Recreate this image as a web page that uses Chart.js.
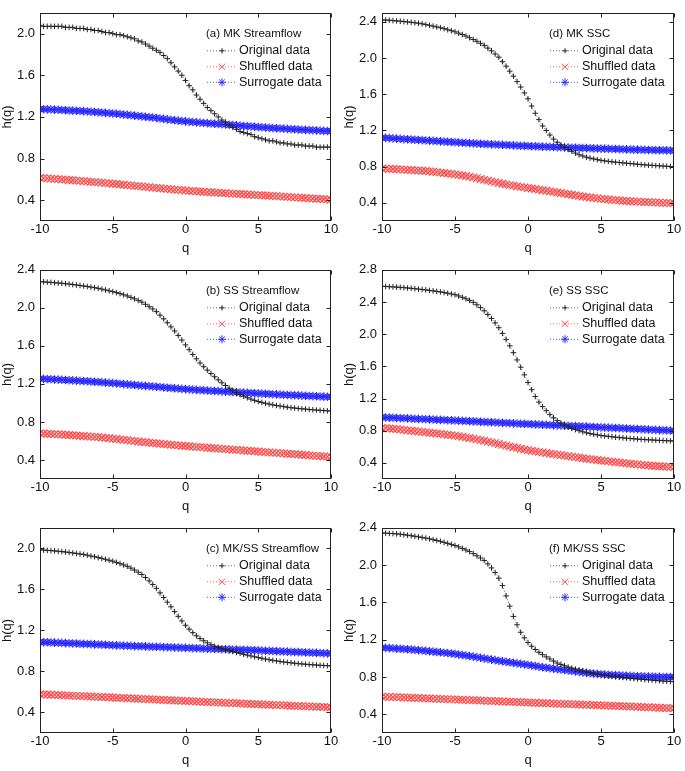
<!DOCTYPE html>
<html>
<head>
<meta charset="utf-8">
<script src="https://cdn.jsdelivr.net/npm/chart.js@4.4.1/dist/chart.umd.min.js"></script>
<style>
  body { margin: 0; background: #fff; }
  #wrap { position: relative; width: 685px; height: 771px; }
  canvas { position: absolute; }
</style>
</head>
<body>
<div id="wrap">
  <canvas id="pa" width="342" height="257" style="left:0;top:0"></canvas>
  <canvas id="pd" width="343" height="257" style="left:342px;top:0"></canvas>
  <canvas id="pb" width="342" height="258" style="left:0;top:257px"></canvas>
  <canvas id="pe" width="343" height="258" style="left:342px;top:257px"></canvas>
  <canvas id="pc" width="342" height="256" style="left:0;top:515px"></canvas>
  <canvas id="pf" width="343" height="256" style="left:342px;top:515px"></canvas>
</div>
<script>
// q from -10 to 10
const qValues = [
  -10, -9.75, -9.5, -9.25, -9, -8.75, -8.5, -8.25, -8, -7.75, -7.5, -7.25,
  -7, -6.75, -6.5, -6.25, -6, -5.75, -5.5, -5.25, -5, -4.75, -4.5, -4.25,
  -4, -3.75, -3.5, -3.25, -3, -2.75, -2.5, -2.25, -2, -1.75, -1.5, -1.25,
  -1, -0.75, -0.5, -0.25, 0, 0.25, 0.5, 0.75, 1, 1.25, 1.5, 1.75,
  2, 2.25, 2.5, 2.75, 3, 3.25, 3.5, 3.75, 4, 4.25, 4.5, 4.75,
  5, 5.25, 5.5, 5.75, 6, 6.25, 6.5, 6.75, 7, 7.25, 7.5, 7.75,
  8, 8.25, 8.5, 8.75, 9, 9.25, 9.5, 9.75, 10
];
const xTicks = [-10, -5, 0, 5, 10];
const seriesNames = ['Original data', 'Shuffled data', 'Surrogate data'];

// (a) MK Streamflow
const origA = [
  2.08, 2.07, 2.07, 2.07, 2.07, 2.07, 2.07, 2.06, 2.06, 2.06, 2.05, 2.05,
  2.05, 2.04, 2.04, 2.03, 2.03, 2.02, 2.01, 2.01, 2.00, 1.99, 1.99, 1.98,
  1.97, 1.96, 1.95, 1.93, 1.92, 1.90, 1.88, 1.86, 1.84, 1.82, 1.79, 1.76,
  1.72, 1.68, 1.64, 1.60, 1.55, 1.50, 1.46, 1.41, 1.37, 1.33, 1.29, 1.26,
  1.23, 1.20, 1.17, 1.15, 1.12, 1.10, 1.08, 1.06, 1.05, 1.04, 1.03, 1.01,
  1.00, 0.99, 0.98, 0.97, 0.97, 0.96, 0.95, 0.95, 0.94, 0.94, 0.93, 0.93,
  0.93, 0.92, 0.92, 0.92, 0.91, 0.91, 0.91, 0.91, 0.91
];
const shufA = [
  .615, .612, .610, .607, .605, .602, .599, .597, .594, .591, .588, .586,
  .583, .580, .577, .574, .571, .568, .564, .561, .558, .555, .551, .548,
  .545, .542, .538, .535, .532, .528, .525, .521, .518, .515, .511, .508,
  .505, .502, .499, .496, .493, .490, .488, .485, .483, .481, .478, .476,
  .474, .472, .469, .467, .465, .463, .461, .459, .457, .455, .453, .451,
  .449, .447, .445, .443, .441, .439, .436, .434, .432, .430, .427, .425,
  .423, .421, .418, .416, .414, .412, .409, .407, .405
];
const surrA = [
  1.275, 1.274, 1.272, 1.271, 1.270, 1.268, 1.266, 1.264, 1.262, 1.260, 1.259, 1.257,
  1.255, 1.252, 1.250, 1.247, 1.245, 1.242, 1.239, 1.236, 1.233, 1.230, 1.227, 1.223,
  1.220, 1.216, 1.212, 1.209, 1.205, 1.201, 1.197, 1.194, 1.190, 1.185, 1.181, 1.176,
  1.172, 1.168, 1.164, 1.161, 1.157, 1.154, 1.151, 1.148, 1.145, 1.142, 1.140, 1.137,
  1.135, 1.132, 1.130, 1.127, 1.125, 1.122, 1.119, 1.116, 1.113, 1.110, 1.108, 1.105,
  1.103, 1.100, 1.098, 1.095, 1.093, 1.091, 1.089, 1.087, 1.085, 1.083, 1.081, 1.079,
  1.077, 1.075, 1.073, 1.072, 1.070, 1.068, 1.066, 1.065, 1.063
];

// (b) SS Streamflow
const origB = [
  2.275, 2.273, 2.270, 2.268, 2.265, 2.261, 2.258, 2.254, 2.250, 2.245, 2.240, 2.235,
  2.230, 2.224, 2.218, 2.212, 2.205, 2.197, 2.188, 2.179, 2.170, 2.160, 2.149, 2.137,
  2.125, 2.110, 2.095, 2.078, 2.060, 2.037, 2.013, 1.988, 1.960, 1.923, 1.884, 1.843,
  1.800, 1.757, 1.710, 1.661, 1.610, 1.560, 1.510, 1.464, 1.420, 1.381, 1.345, 1.309,
  1.275, 1.243, 1.212, 1.183, 1.155, 1.131, 1.108, 1.088, 1.070, 1.054, 1.040, 1.027,
  1.015, 1.005, 0.996, 0.988, 0.980, 0.973, 0.967, 0.961, 0.955, 0.950, 0.946, 0.942,
  0.938, 0.935, 0.931, 0.928, 0.925, 0.922, 0.920, 0.917, 0.915
];
const shufB = [
  .680, .678, .676, .674, .672, .670, .668, .665, .663, .660, .657, .655,
  .652, .649, .646, .643, .640, .636, .632, .629, .625, .621, .617, .612,
  .608, .603, .599, .594, .590, .586, .582, .579, .575, .571, .567, .564,
  .560, .557, .553, .550, .547, .544, .541, .538, .535, .532, .529, .526,
  .523, .520, .517, .514, .511, .508, .506, .503, .500, .497, .495, .492,
  .489, .486, .483, .480, .477, .474, .472, .469, .466, .463, .461, .458,
  .455, .452, .449, .446, .443, .440, .437, .435, .432
];
const surrB = [
  1.255, 1.253, 1.251, 1.249, 1.247, 1.245, 1.243, 1.241, 1.239, 1.237, 1.235, 1.232,
  1.230, 1.228, 1.225, 1.223, 1.220, 1.217, 1.214, 1.211, 1.208, 1.205, 1.202, 1.198,
  1.195, 1.192, 1.188, 1.185, 1.182, 1.179, 1.176, 1.173, 1.170, 1.167, 1.163, 1.160,
  1.157, 1.154, 1.151, 1.148, 1.145, 1.142, 1.140, 1.137, 1.135, 1.133, 1.130, 1.128,
  1.126, 1.124, 1.121, 1.119, 1.117, 1.115, 1.112, 1.110, 1.108, 1.106, 1.104, 1.102,
  1.100, 1.098, 1.096, 1.094, 1.092, 1.090, 1.088, 1.086, 1.084, 1.082, 1.081, 1.079,
  1.077, 1.075, 1.073, 1.072, 1.070, 1.068, 1.066, 1.065, 1.063
];

// (c) MK/SS Streamflow
const origC = [
  1.985, 1.983, 1.980, 1.978, 1.975, 1.971, 1.968, 1.964, 1.960, 1.955, 1.950, 1.945,
  1.940, 1.933, 1.925, 1.918, 1.910, 1.902, 1.893, 1.884, 1.875, 1.863, 1.851, 1.838,
  1.825, 1.807, 1.788, 1.767, 1.745, 1.715, 1.683, 1.648, 1.610, 1.566, 1.521, 1.475,
  1.430, 1.383, 1.337, 1.292, 1.250, 1.212, 1.178, 1.147, 1.120, 1.099, 1.079, 1.061,
  1.045, 1.033, 1.022, 1.012, 1.003, 0.994, 0.985, 0.976, 0.967, 0.959, 0.951, 0.943,
  0.935, 0.928, 0.921, 0.914, 0.908, 0.902, 0.897, 0.892, 0.888, 0.884, 0.880, 0.876,
  0.873, 0.870, 0.867, 0.865, 0.862, 0.860, 0.858, 0.856, 0.855
];
const shufC = [
  .578, .576, .575, .573, .572, .570, .568, .567, .565, .564, .562, .560,
  .559, .557, .556, .554, .552, .551, .549, .548, .546, .544, .543, .541,
  .539, .537, .536, .534, .532, .530, .529, .527, .525, .524, .522, .520,
  .519, .517, .515, .514, .512, .510, .509, .507, .506, .504, .502, .501,
  .499, .498, .496, .494, .493, .491, .490, .488, .486, .485, .483, .482,
  .480, .478, .477, .475, .474, .472, .471, .469, .468, .466, .465, .463,
  .462, .460, .459, .457, .456, .454, .453, .451, .450
];
const surrC = [
  1.087, 1.085, 1.084, 1.082, 1.081, 1.079, 1.078, 1.076, 1.075, 1.073, 1.072, 1.070,
  1.069, 1.067, 1.066, 1.064, 1.063, 1.061, 1.060, 1.058, 1.055, 1.054, 1.053, 1.051,
  1.050, 1.049, 1.047, 1.046, 1.045, 1.044, 1.042, 1.041, 1.040, 1.039, 1.037, 1.036,
  1.035, 1.034, 1.032, 1.031, 1.030, 1.029, 1.027, 1.026, 1.025, 1.024, 1.022, 1.021,
  1.020, 1.019, 1.017, 1.016, 1.015, 1.014, 1.012, 1.011, 1.010, 1.009, 1.007, 1.006,
  1.005, 1.003, 1.002, 1.000, 0.999, 0.997, 0.996, 0.994, 0.993, 0.991, 0.990, 0.988,
  0.987, 0.985, 0.984, 0.982, 0.981, 0.979, 0.978, 0.976, 0.975
];

// (d) MK SSC
const origD = [
  2.420, 2.420, 2.418, 2.414, 2.410, 2.407, 2.403, 2.399, 2.395, 2.390, 2.385, 2.378,
  2.370, 2.362, 2.353, 2.344, 2.335, 2.325, 2.313, 2.302, 2.290, 2.275, 2.260, 2.243,
  2.225, 2.205, 2.185, 2.163, 2.140, 2.110, 2.080, 2.045, 2.010, 1.960, 1.910, 1.855,
  1.800, 1.740, 1.680, 1.615, 1.550, 1.470, 1.390, 1.320, 1.250, 1.200, 1.150, 1.105,
  1.070, 1.040, 1.015, 0.990, 0.970, 0.950, 0.932, 0.918, 0.905, 0.895, 0.886, 0.878,
  0.870, 0.864, 0.859, 0.854, 0.850, 0.846, 0.842, 0.838, 0.835, 0.831, 0.827, 0.823,
  0.820, 0.817, 0.815, 0.812, 0.810, 0.807, 0.805, 0.802, 0.800
];
const shufD = [
  .780, .778, .776, .774, .772, .770, .768, .765, .763, .760, .758, .755,
  .752, .748, .744, .740, .735, .730, .725, .720, .715, .709, .703, .697,
  .690, .682, .673, .664, .655, .646, .638, .629, .620, .612, .605, .597,
  .590, .584, .577, .571, .565, .559, .553, .546, .540, .534, .528, .521,
  .515, .509, .503, .496, .490, .484, .477, .471, .465, .460, .455, .450,
  .445, .441, .437, .434, .430, .427, .424, .421, .418, .416, .414, .412,
  .410, .408, .406, .405, .403, .401, .400, .398, .397
];
const surrD = [
  1.120, 1.118, 1.115, 1.113, 1.110, 1.108, 1.105, 1.103, 1.100, 1.098, 1.095, 1.093,
  1.090, 1.088, 1.085, 1.083, 1.080, 1.078, 1.075, 1.073, 1.070, 1.068, 1.065, 1.063,
  1.060, 1.058, 1.055, 1.053, 1.051, 1.049, 1.047, 1.045, 1.043, 1.041, 1.039, 1.037,
  1.035, 1.033, 1.031, 1.030, 1.028, 1.026, 1.025, 1.023, 1.022, 1.020, 1.019, 1.017,
  1.016, 1.014, 1.013, 1.011, 1.010, 1.009, 1.007, 1.006, 1.005, 1.004, 1.002, 1.001,
  1.000, 0.999, 0.997, 0.996, 0.995, 0.994, 0.992, 0.991, 0.990, 0.989, 0.988, 0.987,
  0.986, 0.985, 0.984, 0.983, 0.982, 0.981, 0.980, 0.979, 0.978
];

// (e) SS SSC
const origE = [
  2.595, 2.593, 2.590, 2.588, 2.585, 2.582, 2.578, 2.574, 2.570, 2.565, 2.560, 2.555,
  2.550, 2.544, 2.538, 2.532, 2.525, 2.517, 2.509, 2.500, 2.490, 2.475, 2.458, 2.440,
  2.420, 2.395, 2.365, 2.330, 2.290, 2.245, 2.195, 2.140, 2.080, 2.010, 1.935, 1.855,
  1.770, 1.680, 1.590, 1.495, 1.400, 1.310, 1.225, 1.155, 1.100, 1.050, 1.000, 0.960,
  0.925, 0.895, 0.870, 0.848, 0.830, 0.814, 0.800, 0.787, 0.775, 0.765, 0.756, 0.748,
  0.740, 0.735, 0.730, 0.725, 0.720, 0.716, 0.711, 0.707, 0.703, 0.700, 0.696, 0.693,
  0.690, 0.687, 0.685, 0.682, 0.680, 0.678, 0.676, 0.674, 0.672
];
const shufE = [
  .835, .832, .828, .824, .820, .815, .810, .805, .800, .795, .790, .785,
  .780, .775, .770, .765, .760, .755, .750, .745, .740, .733, .725, .718,
  .710, .701, .693, .684, .675, .665, .655, .645, .635, .625, .615, .605,
  .595, .586, .576, .567, .558, .551, .544, .537, .530, .523, .516, .510,
  .503, .497, .490, .484, .478, .471, .465, .458, .452, .447, .441, .436,
  .430, .425, .420, .415, .410, .405, .400, .395, .390, .385, .381, .376,
  .372, .368, .365, .361, .358, .355, .353, .350, .348
];
const surrE = [
  .967, .965, .963, .961, .959, .957, .955, .953, .951, .949, .947, .945,
  .943, .941, .939, .937, .935, .933, .931, .929, .927, .925, .923, .921,
  .918, .916, .914, .912, .909, .907, .905, .903, .900, .898, .896, .894,
  .891, .889, .887, .885, .883, .881, .879, .877, .875, .873, .871, .869,
  .867, .865, .863, .861, .859, .857, .855, .853, .851, .849, .847, .844,
  .842, .840, .838, .836, .834, .832, .830, .827, .825, .823, .821, .819,
  .817, .815, .813, .810, .808, .806, .804, .802, .800
];

// (f) MK/SS SSC
const origF = [
  2.345, 2.343, 2.340, 2.338, 2.335, 2.331, 2.326, 2.321, 2.315, 2.309, 2.303, 2.297,
  2.290, 2.282, 2.273, 2.264, 2.255, 2.244, 2.233, 2.222, 2.210, 2.195, 2.179, 2.162,
  2.145, 2.123, 2.100, 2.076, 2.050, 2.013, 1.970, 1.920, 1.860, 1.780, 1.670, 1.560,
  1.450, 1.360, 1.280, 1.220, 1.170, 1.130, 1.095, 1.065, 1.040, 1.016, 0.994, 0.971,
  0.950, 0.935, 0.920, 0.907, 0.895, 0.884, 0.874, 0.864, 0.855, 0.847, 0.839, 0.832,
  0.825, 0.820, 0.815, 0.810, 0.805, 0.801, 0.796, 0.792, 0.788, 0.784, 0.780, 0.777,
  0.773, 0.770, 0.767, 0.763, 0.760, 0.757, 0.755, 0.752, 0.750
];
const shufF = [
  .590, .588, .587, .585, .584, .582, .581, .579, .578, .576, .575, .573,
  .572, .570, .569, .567, .566, .564, .563, .561, .560, .558, .556, .555,
  .553, .551, .550, .548, .547, .545, .543, .542, .540, .538, .537, .535,
  .534, .532, .530, .529, .527, .525, .524, .522, .521, .519, .518, .516,
  .515, .513, .512, .510, .509, .507, .506, .504, .503, .501, .500, .498,
  .497, .495, .494, .492, .490, .489, .487, .486, .484, .482, .481, .479,
  .478, .476, .474, .473, .471, .469, .468, .466, .465
];
const surrF = [
  1.115, 1.113, 1.110, 1.108, 1.105, 1.103, 1.100, 1.098, 1.095, 1.091, 1.088, 1.084,
  1.080, 1.076, 1.072, 1.069, 1.065, 1.061, 1.057, 1.052, 1.048, 1.042, 1.036, 1.031,
  1.025, 1.019, 1.013, 1.006, 1.000, 0.994, 0.987, 0.981, 0.975, 0.969, 0.963, 0.958,
  0.952, 0.946, 0.941, 0.935, 0.930, 0.924, 0.918, 0.911, 0.905, 0.900, 0.895, 0.890,
  0.885, 0.880, 0.875, 0.870, 0.865, 0.860, 0.855, 0.850, 0.845, 0.841, 0.837, 0.834,
  0.830, 0.827, 0.825, 0.822, 0.820, 0.818, 0.816, 0.814, 0.812, 0.810, 0.809, 0.807,
  0.806, 0.805, 0.804, 0.803, 0.802, 0.801, 0.800, 0.800, 0.799
];

// y axis ticks per panel
const yTicks22 = [0.4, 0.8, 1.2, 1.6, 2.0];
const yTicks24 = [0.4, 0.8, 1.2, 1.6, 2.0, 2.4];
const yTicks28 = [0.4, 0.8, 1.2, 1.6, 2.0, 2.4, 2.8];

Chart.defaults.font.family = '"Liberation Sans", Arial, sans-serif';
Chart.defaults.font.size = 13;
Chart.defaults.color = '#111';

// frame around plot area with inward ticks on all four sides
const frameTicks = {
  id: 'frameTicks',
  afterDraw(chart) {
    const ctx = chart.ctx;
    const a = chart.chartArea;
    const x = chart.scales.x, y = chart.scales.y;
    const L = Math.round(a.left) + 0.5, R = Math.round(a.right) - 0.5;
    const T = Math.round(a.top) + 0.5, B = Math.round(a.bottom) - 0.5;
    ctx.save();
    ctx.strokeStyle = '#222';
    ctx.lineWidth = 1;
    ctx.strokeRect(L, T, R - L, B - T);
    ctx.beginPath();
    x.ticks.forEach(t => {
      const px = Math.round(x.getPixelForValue(t.value)) + 0.5;
      ctx.moveTo(px, B); ctx.lineTo(px, B - 4);
      ctx.moveTo(px, T); ctx.lineTo(px, T + 4);
    });
    y.ticks.forEach(t => {
      const py = Math.round(y.getPixelForValue(t.value)) + 0.5;
      ctx.moveTo(L, py); ctx.lineTo(L + 4, py);
      ctx.moveTo(R, py); ctx.lineTo(R - 4, py);
    });
    ctx.stroke();
    ctx.restore();
  }
};

// legend in upper right: panel title, then dotted line with marker per series
const panelLegend = {
  id: 'panelLegend',
  afterDraw(chart, args, opts) {
    const ctx = chart.ctx;
    const a = chart.chartArea;
    const x0 = a.right - 125;
    ctx.save();
    ctx.fillStyle = '#111';
    ctx.textBaseline = 'middle';
    ctx.textAlign = 'left';
    ctx.font = '11.5px "Liberation Sans", Arial, sans-serif';
    ctx.fillText(opts.title, x0, a.top + 21);
    ctx.font = '12.5px "Liberation Sans", Arial, sans-serif';
    const rows = [38, 54, 69.5];
    chart.data.datasets.forEach((ds, i) => {
      const yy = a.top + rows[i];
      ctx.save();
      ctx.strokeStyle = ds.borderColor;
      ctx.lineWidth = 1;
      ctx.setLineDash([1, 2]);
      ctx.beginPath();
      ctx.moveTo(a.right - 124, yy);
      ctx.lineTo(a.right - 94, yy);
      ctx.stroke();
      ctx.setLineDash([]);
      ctx.strokeStyle = ds.pointBorderColor;
      ctx.fillStyle = ds.pointBorderColor;
      Chart.helpers.drawPoint(ctx, {
        pointStyle: ds.pointStyle,
        radius: ds.legendRadius,
        rotation: 0,
        borderWidth: 1
      }, a.right - 109, yy);
      ctx.restore();
      ctx.fillText(ds.label, a.right - 92, yy);
    });
    ctx.restore();
  }
};

function points(vals) {
  return qValues.map((q, i) => ({ x: q, y: vals[i] }));
}

function makePanel(id, title, orig, shuf, surr, yMax, yTicks, pad) {
  const datasets = [
    {
      label: seriesNames[0], data: points(orig),
      borderColor: 'rgba(90,90,90,0.9)', borderWidth: 1, borderDash: [1, 2],
      pointStyle: 'cross', pointRadius: 2.8, pointBorderWidth: 1,
      pointBorderColor: '#222', pointBackgroundColor: '#222', legendRadius: 2.6
    },
    {
      label: seriesNames[1], data: points(shuf),
      borderColor: 'rgba(255,80,80,0.9)', borderWidth: 1, borderDash: [1, 2],
      pointStyle: 'crossRot', pointRadius: 5.3, pointBorderWidth: 1.2,
      pointBorderColor: 'rgb(255,70,70)', pointBackgroundColor: 'rgb(255,70,70)', legendRadius: 4.5
    },
    {
      label: seriesNames[2], data: points(surr),
      borderColor: 'rgba(70,70,255,0.9)', borderWidth: 1, borderDash: [1, 2],
      pointStyle: 'star', pointRadius: 4.3, pointBorderWidth: 1.1,
      pointBorderColor: 'rgb(40,40,255)', pointBackgroundColor: 'rgb(40,40,255)', legendRadius: 4
    }
  ];
  datasets.forEach(d => { d.clip = 0; d.tension = 0; });

  return new Chart(document.getElementById(id), {
    type: 'line',
    data: { datasets: datasets },
    options: {
      responsive: false,
      animation: false,
      layout: { padding: pad },
      plugins: {
        legend: { display: false },
        tooltip: { enabled: false },
        panelLegend: { title: title }
      },
      scales: {
        x: {
          type: 'linear', min: -10, max: 10,
          grid: { display: false, drawTicks: false }, border: { display: false },
          afterBuildTicks: s => { s.ticks = xTicks.map(v => ({ value: v })); },
          afterFit: s => { s.height = 36; },
          ticks: { padding: 1, callback: v => String(v) },
          title: { display: true, text: 'q', padding: { top: 0, bottom: 1 } }
        },
        y: {
          min: 0.2, max: yMax,
          grid: { display: false, drawTicks: false }, border: { display: false },
          afterBuildTicks: s => { s.ticks = yTicks.map(v => ({ value: v })); },
          afterFit: s => { s.width = 40; },
          ticks: { padding: 5, callback: v => v.toFixed(1) },
          title: { display: true, text: 'h(q)', padding: { top: 0, bottom: 0 } }
        }
      }
    },
    plugins: [frameTicks, panelLegend]
  });
}

makePanel('pa', '(a) MK Streamflow', origA, shufA, surrA, 2.2, yTicks22, { left: 0, right: 11, top: 5, bottom: 0 });
makePanel('pd', '(d) MK SSC', origD, shufD, surrD, 2.5, yTicks24, { left: 0, right: 11, top: 5, bottom: 0 });
makePanel('pb', '(b) SS Streamflow', origB, shufB, surrB, 2.4, yTicks24, { left: 0, right: 11, top: 7, bottom: 0 });
makePanel('pe', '(e) SS SSC', origE, shufE, surrE, 2.8, yTicks28, { left: 0, right: 11, top: 7, bottom: 0 });
makePanel('pc', '(c) MK/SS Streamflow', origC, shufC, surrC, 2.2, yTicks22, { left: 0, right: 11, top: 3, bottom: 2 });
makePanel('pf', '(f) MK/SS SSC', origF, shufF, surrF, 2.4, yTicks24, { left: 0, right: 11, top: 3, bottom: 2 });
</script>
</body>
</html>
